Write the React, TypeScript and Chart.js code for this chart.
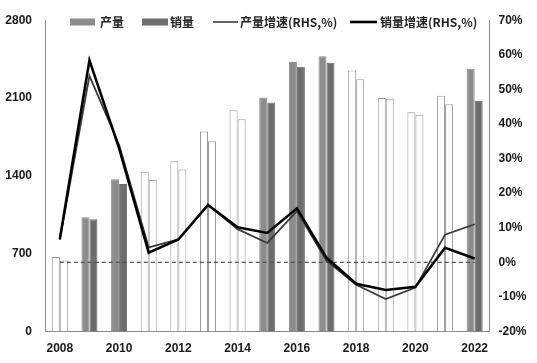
import React, { useEffect, useRef } from "react";
import { Chart, registerables } from "chart.js";

Chart.register(...registerables);

const YEARS = ["2008", "2009", "2010", "2011", "2012", "2013", "2014", "2015", "2016", "2017", "2018", "2019", "2020", "2021", "2022"];
const PRODUCTION = [670, 1028, 1370, 1436, 1531, 1799, 1990, 2105, 2425, 2476, 2348, 2101, 1971, 2120, 2363];
const SALES = [639, 1010, 1326, 1362, 1457, 1712, 1910, 2060, 2381, 2417, 2268, 2093, 1950, 2045, 2075];
const PROD_GROWTH = [6.5, 53.9, 34, 4.3, 6.6, 16.6, 9.6, 5.6, 14.8, 0.5, -6.5, -10.6, -7.3, 8.0, 11.0];
const SALES_GROWTH = [6.7, 58.4, 33, 2.8, 6.6, 16.6, 10.1, 8.5, 15.6, 1.3, -6.2, -8.0, -7.1, 4.2, 1.1];
const ZERO_LINE = YEARS.map(() => 0);
const LEFT_TICKS = [0, 700, 1400, 2100, 2800];
const SHADED_YEARS = ["2009", "2010", "2015", "2016", "2017", "2022"];

const PROD_COLOR = "#8c8c8c";
const SALES_COLOR = "#6c6c6c";
const WHITE_BORDER = "#9a9a9a";
const TICK_FONT = { family: "'Liberation Sans', Arial, sans-serif", size: 12, weight: "bold" as const };

const legendPlugin = {
  id: "customLegend",
  afterDraw(chart: any) {
    const ctx = chart.ctx as CanvasRenderingContext2D;
    ctx.save();
    const cy = 22;
    ctx.font = "bold 12px 'Noto Sans CJK SC', 'Liberation Sans', sans-serif";
    ctx.textBaseline = "middle";
    ctx.textAlign = "left";
    ctx.fillStyle = PROD_COLOR;
    ctx.fillRect(70, cy - 3.5, 25, 7);
    ctx.fillStyle = "#222";
    ctx.fillText("产量", 100, cy);
    ctx.fillStyle = SALES_COLOR;
    ctx.fillRect(142, cy - 3.5, 26, 7);
    ctx.fillStyle = "#222";
    ctx.fillText("销量", 170, cy);
    ctx.strokeStyle = "#3a3a3a";
    ctx.lineWidth = 1.6;
    ctx.beginPath();
    ctx.moveTo(213, cy);
    ctx.lineTo(238, cy);
    ctx.stroke();
    ctx.fillText("产量增速(RHS,%)", 240, cy);
    ctx.strokeStyle = "#000";
    ctx.lineWidth = 2.6;
    ctx.beginPath();
    ctx.moveTo(350, cy);
    ctx.lineTo(377, cy);
    ctx.stroke();
    ctx.fillText("销量增速(RHS,%)", 380, cy);
    ctx.restore();
  },
};

export default function App() {
  const ref = useRef<HTMLCanvasElement | null>(null);

  useEffect(() => {
    if (!ref.current) return;
    const shaded = (y: string) => SHADED_YEARS.includes(y);
    const chart = new Chart(ref.current, {
      type: "bar",
      data: {
        labels: YEARS,
        datasets: [
          {
            type: "line",
            label: "销量增速(RHS,%)",
            data: SALES_GROWTH,
            yAxisID: "y1",
            borderColor: "#000",
            borderWidth: 2.6,
            pointRadius: 0,
            tension: 0,
            order: 0,
          },
          {
            type: "line",
            label: "产量增速(RHS,%)",
            data: PROD_GROWTH,
            yAxisID: "y1",
            borderColor: "#3a3a3a",
            borderWidth: 1.8,
            pointRadius: 0,
            tension: 0,
            order: 1,
          },
          {
            type: "line",
            label: "zero",
            data: ZERO_LINE,
            yAxisID: "y1",
            borderColor: "#555",
            borderWidth: 1.3,
            borderDash: [4, 3],
            pointRadius: 0,
            order: 2,
          },
          {
            type: "bar",
            label: "产量",
            data: PRODUCTION,
            yAxisID: "y",
            backgroundColor: YEARS.map((y) => (shaded(y) ? PROD_COLOR : "#ffffff")),
            borderColor: YEARS.map((y) => (shaded(y) ? PROD_COLOR : WHITE_BORDER)),
            borderWidth: 1,
            categoryPercentage: 0.54,
            barPercentage: 1,
            order: 3,
          },
          {
            type: "bar",
            label: "销量",
            data: SALES,
            yAxisID: "y",
            backgroundColor: YEARS.map((y) => (shaded(y) ? SALES_COLOR : "#ffffff")),
            borderColor: YEARS.map((y) => (shaded(y) ? SALES_COLOR : WHITE_BORDER)),
            borderWidth: 1,
            categoryPercentage: 0.54,
            barPercentage: 1,
            order: 3,
          },
        ],
      } as any,
      options: {
        animation: false,
        responsive: false,
        maintainAspectRatio: false,
        layout: { padding: { top: 17, left: 0, right: 0, bottom: 0 } },
        plugins: { legend: { display: false }, tooltip: { enabled: false } },
        scales: {
          x: {
            grid: { display: false, drawTicks: false },
            border: { display: true, color: "#8a8a8a", width: 1 },
            ticks: {
              autoSkip: false,
              maxRotation: 0,
              padding: 10,
              color: "#1a1a1a",
              font: TICK_FONT,
              callback: (_v: any, i: number) => (i % 2 === 0 ? YEARS[i] : ""),
            },
            afterFit: (s: any) => {
              s.height = 31.5;
            },
          },
          y: {
            position: "left",
            min: 0,
            max: 2800,
            grid: { display: false, drawTicks: false },
            border: { display: true, color: "#8a8a8a", width: 1 },
            afterBuildTicks: (s: any) => {
              s.ticks = LEFT_TICKS.map((v) => ({ value: v }));
            },
            ticks: {
              padding: 13,
              color: "#1a1a1a",
              font: TICK_FONT,
              callback: (v: any) => String(v),
            },
            afterFit: (s: any) => {
              s.width = 45;
            },
          },
          y1: {
            position: "right",
            min: -20,
            max: 70,
            grid: { display: false, drawTicks: false },
            border: { display: true, color: "#8a8a8a", width: 1 },
            ticks: {
              stepSize: 10,
              padding: 9,
              color: "#1a1a1a",
              font: TICK_FONT,
              callback: (v: any) => `${v}%`,
            },
            afterFit: (s: any) => {
              s.width = 47.5;
            },
          },
        },
      } as any,
      plugins: [legendPlugin],
    });
    return () => chart.destroy();
  }, []);

  return (
    <div style={{ position: "absolute", left: 0, top: 0, width: 537, height: 363, background: "#fff" }}>
      <canvas ref={ref} width={537} height={363} style={{ width: 537, height: 363 }} />
    </div>
  );
}
